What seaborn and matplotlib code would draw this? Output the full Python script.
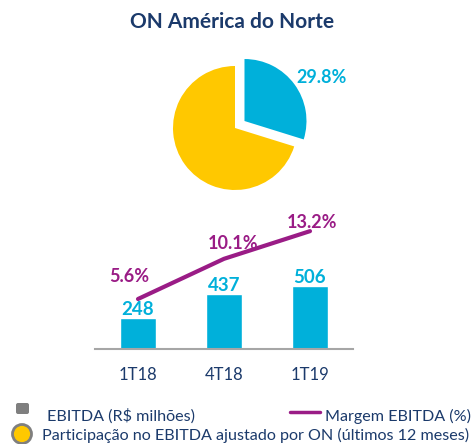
import matplotlib
matplotlib.use("Agg")
import matplotlib.pyplot as plt
import seaborn as sns
import pandas as pd
from matplotlib.patches import FancyBboxPatch, Circle
from matplotlib.lines import Line2D

# ---- data ----
quarters = ["1T18", "4T18", "1T19"]
ebitda = [248, 437, 506]
margem = [5.6, 10.1, 13.2]
margem_labels = ["5.6%", "10.1%", "13.2%"]
pie_values = [29.8, 70.2]
pie_label = "29.8%"
title = "ON América do Norte"
legend_texts = ["EBITDA (R$ milhões)", "Margem EBITDA (%)",
                "Participação no EBITDA ajustado por ON (últimos 12 meses)"]

# ---- style ----
sns.set_theme(style="white")
FONT = ["Lato", "DejaVu Sans"]
plt.rcParams["font.family"] = FONT

CYAN = "#00B0DA"
YELLOW = "#FFC800"
MAGENTA = "#9A1C86"
NAVY = "#1B3A6B"
GRAY = "#A6A6A6"

W, H = 472, 444
fig = plt.figure(figsize=(W / 100, H / 100), dpi=100)
fig.patch.set_facecolor("white")

def px_axes(x0, y0, x1, y1):
    return fig.add_axes([x0 / W, 1 - y1 / H, (x1 - x0) / W, (y1 - y0) / H])

# title
fig.text(232 / W, 1 - 22 / H, title, ha="center", va="center",
         fontsize=15, fontweight="bold", color=NAVY)

# ---- pie ----
R = 62
pcx, pcy = 235, 128
half = 80
axp = px_axes(pcx - half, pcy - half, pcx + half, pcy + half)
lim = half / R
axp.pie(pie_values, colors=[CYAN, YELLOW], startangle=90, counterclock=False,
        explode=[0.19, 0], radius=1, wedgeprops=dict(linewidth=0))
axp.set_xlim(-lim, lim)
axp.set_ylim(-lim, lim)
axp.set_aspect("equal")
axp.axis("off")
axp.text(1.40, 0.82, pie_label, ha="center", va="center", fontsize=13,
         fontweight="bold", color=CYAN)

# ---- bars + line ----
ax = px_axes(95, 200, 353, 349)
df = pd.DataFrame({"quarter": quarters, "ebitda": ebitda, "margem": margem})
sns.barplot(data=df, x="quarter", y="ebitda", color=CYAN, width=0.41,
            saturation=1, ax=ax)
ax.set_xlim(-0.5, 2.5)
ax.set_ylim(0, 149 * 8)
for c in ax.containers:
    ax.bar_label(c, padding=0, fontsize=13.5, fontweight="bold", color=CYAN)
ax.set_xlabel("")
ax.set_ylabel("")
ax.set_yticks([])
for s in ["top", "left", "right"]:
    ax.spines[s].set_visible(False)
ax.spines["bottom"].set_color(GRAY)
ax.spines["bottom"].set_linewidth(1.5)
ax.tick_params(axis="x", length=0, pad=13, labelsize=12, labelcolor=NAVY)
ax.set_facecolor("none")

ax2 = ax.twinx()
sns.lineplot(x=[0, 1, 2], y=margem, color=MAGENTA, linewidth=3, ax=ax2)
ax2.set_ylim(0, 149 * 0.112)
ax2.set_xlim(-0.5, 2.5)
ax2.axis("off")
offsets = [(-9, 23), (9, 15), (2, 9)]
for i, (v, lab) in enumerate(zip(margem, margem_labels)):
    ax2.annotate(lab, (i, v), xytext=offsets[i], textcoords="offset pixels",
                 ha="center", va="center", fontsize=13, fontweight="bold",
                 color=MAGENTA)

# ---- legend (manual) ----
axl = fig.add_axes([0, 0, 1, 1])
axl.set_xlim(0, W)
axl.set_ylim(H, 0)
axl.axis("off")
axl.add_patch(FancyBboxPatch((16, 403), 13, 11, boxstyle="round,pad=0,rounding_size=2",
                             facecolor="#7F7F7F", edgecolor="none"))
axl.text(47, 416, legend_texts[0], ha="left", va="center", fontsize=11.6,
         color=NAVY)
axl.add_line(Line2D([290, 320], [411.5, 411.5], color=MAGENTA, linewidth=2.5))
axl.text(325, 416, legend_texts[1], ha="left", va="center", fontsize=11.6,
         color=NAVY)
axl.add_patch(Circle((22, 434), 9.5, facecolor=YELLOW, edgecolor="#7F7F7F",
                     linewidth=2))
axl.text(42, 435, legend_texts[2], ha="left", va="center", fontsize=11.6,
         color=NAVY)

fig.savefig("out.png", dpi=100, facecolor="white")
